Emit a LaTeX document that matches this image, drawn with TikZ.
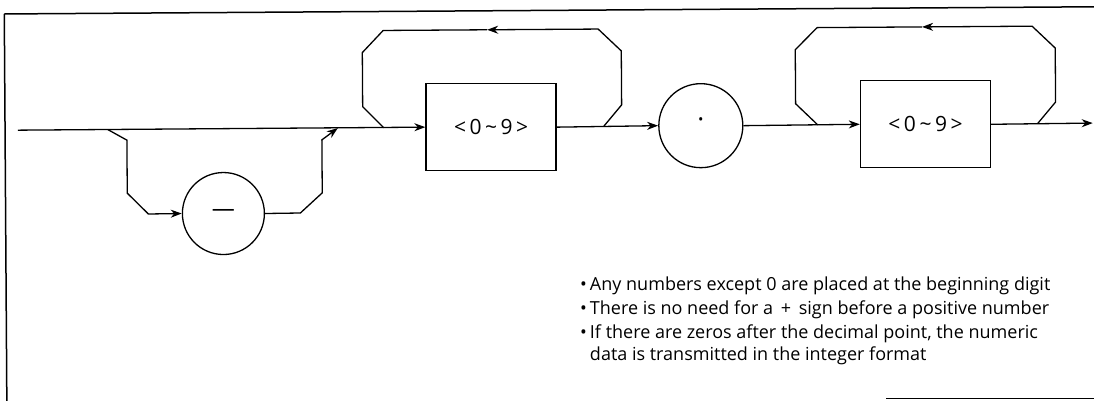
\documentclass[tikz,border=0pt]{standalone}
\usepackage{fontspec}
\setmainfont{Open Sans}
\usetikzlibrary{arrows.meta}
\begin{document}
\begin{tikzpicture}[x=1pt,y=-1pt,
  ln/.style={line width=1.3pt},
  arr/.style={ln, -{Stealth[length=11pt,width=8pt,inset=3.5pt]}},
  frame/.style={line width=1.5pt},
  box/.style={draw, line width=1.3pt, minimum width=130pt, minimum height=87pt, inner sep=0pt, font=\fontsize{21}{24}\selectfont},
  circ/.style={draw, line width=1.3pt, circle, inner sep=0pt, text height=0.54em, text depth=0pt},
  note/.style={anchor=base west, inner sep=0pt, font=\fontsize{18}{22}\selectfont}]
\useasboundingbox (0,0) rectangle (1094,401);
\begin{scope}[rotate=0.378]
  % frame
  \draw[frame] (4.2,14) -- (1110,14);
  \draw[frame] (4.2,14) -- (4.2,420);
  % nodes
  \node[box] (b1) at (490.2,130.4) {<\hspace{3.5pt}0\hspace{3.5pt}\textasciitilde\hspace{3.5pt}9\hspace{3.5pt}>};
  \node[circ, minimum size=84pt, font=\fontsize{26}{26}\selectfont] (dot) at (700,130.3) {·};
  \node[box] (b2) at (924.7,130.4) {<\hspace{3.5pt}0\hspace{3.5pt}\textasciitilde\hspace{3.5pt}9\hspace{3.5pt}>};
  \node[circ, minimum size=82pt, font=\fontsize{23}{23}\selectfont] (minus) at (222,215) {—};
  % main line coordinates
  \coordinate (start) at (17,130.3);
  \coordinate (s1) at (107,130.3);
  \coordinate (j1) at (337,130.3);
  \coordinate (end) at (1092,130.3);
  % minus bypass
  \coordinate (m1) at (126,141);
  \coordinate (m2) at (126,194);
  \coordinate (m3) at (147,215);
  \coordinate (r1) at (299,215);
  \coordinate (r2) at (321,195);
  \coordinate (r3) at (321,142);
  % loop 1
  \coordinate (L1a) at (603,130.3);
  \coordinate (L1b) at (621,109);
  \coordinate (L1c) at (621,55);
  \coordinate (L1d) at (598,33);
  \coordinate (L1m) at (487,33);
  \coordinate (L1e) at (383,33);
  \coordinate (L1f) at (362,55);
  \coordinate (L1g) at (362,109);
  \coordinate (L1h) at (383,130.3);
  % loop 2
  \coordinate (L2a) at (1037,130.3);
  \coordinate (L2b) at (1055,109);
  \coordinate (L2c) at (1055,55);
  \coordinate (L2d) at (1032,33);
  \coordinate (L2m) at (922,33);
  \coordinate (L2e) at (817,33);
  \coordinate (L2f) at (795,55);
  \coordinate (L2g) at (795,109);
  \coordinate (L2h) at (817,130.3);
  % connectors
  \draw[arr] (start) -- (b1.west);
  \draw[arr] (s1) -- (m1) -- (m2) -- (m3) -- (minus.west);
  \draw[arr] (minus.east) -- (r1) -- (r2) -- (r3) -- (j1);
  \draw[arr] (b1.east) -- (dot.west);
  \draw[arr, line join=round] (L1a) -- (L1b) -- (L1c) -- (L1d) -- (L1m);
  \draw[ln, line join=round] (L1m) -- (L1e) -- (L1f) -- (L1g) -- (L1h);
  \draw[arr] (dot.east) -- (b2.west);
  \draw[arr, line join=round] (L2a) -- (L2b) -- (L2c) -- (L2d) -- (L2m);
  \draw[ln, line join=round] (L2m) -- (L2e) -- (L2f) -- (L2g) -- (L2h);
  \draw[arr] (b2.east) -- (end);
\end{scope}
\draw[frame] (886,398.5) -- (1094,398.5);
\node[note] (n1) at (580,290) {•\hspace{3pt}Any numbers except 0 are placed at the beginning digit};
\node[note] (n2) at (580,314) {•\hspace{3pt}There is no need for a \,+\, sign before a positive number};
\node[note] (n3) at (580,338) {•\hspace{3pt}If there are zeros after the decimal point, the numeric};
\node[note] (n4) at (580,360) {\phantom{•\hspace{3pt}}data is transmitted in the integer format};
\end{tikzpicture}
\end{document}
